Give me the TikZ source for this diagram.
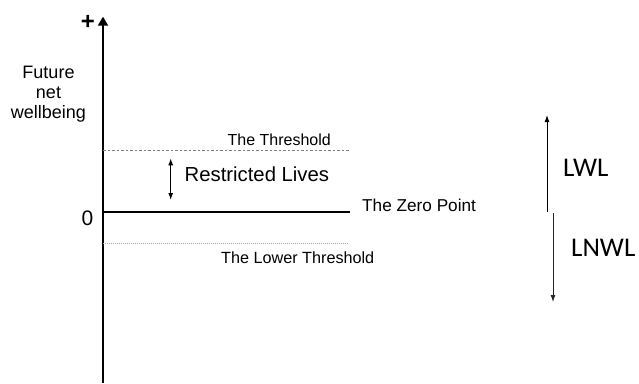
\documentclass[tikz,border=0pt]{standalone}
\usepackage{fontspec}
\setmainfont{Liberation Sans}
\newfontfamily\calfont{Carlito}
\usetikzlibrary{arrows.meta}
\begin{document}
\begin{tikzpicture}[x=1pt,y=-1pt,
  lbl/.style={inner sep=0pt,anchor=base west},
  thinarrow/.style={line width=0.9pt,-{Latex[length=7pt,width=5pt]}},
  dblarrow/.style={line width=1.1pt,{Latex[length=7pt,width=5pt]}-{Latex[length=7pt,width=5pt]}}]
\useasboundingbox (0,0) rectangle (639,383);
% axis
\coordinate (axbot) at (103,383);
\coordinate (axtop) at (103,16.7);
\draw[line width=2pt,-{Triangle[length=9pt,width=10pt]}] (axbot) -- (axtop);
\node[inner sep=0pt,font=\fontsize{24}{24}\selectfont\bfseries] (plus) at (88,22) {+};
\node[inner sep=0pt,anchor=north,align=center,font=\fontsize{18}{20}\selectfont] (ylab) at (48.5,65.7) {Future\\net\\wellbeing};
\node[inner sep=0pt,anchor=base,font=\fontsize{21}{21}\selectfont] (zero) at (87.5,225) {0};
% zero line
\coordinate (z1) at (103,211.5);
\coordinate (z2) at (350,211.5);
\draw[line width=2pt] (z1) -- (z2);
\node[lbl,font=\fontsize{17.2}{17.2}\selectfont] (zp) at (362,211.7) {The Zero Point};
% threshold
\coordinate (t1) at (103,150.7);
\coordinate (t2) at (349,150.7);
\draw[line width=1pt,gray,dash pattern=on 2.5pt off 2pt] (t1) -- (t2);
\node[lbl,font=\fontsize{16}{16}\selectfont] (th) at (227.5,145) {The Threshold};
% lower threshold
\coordinate (l1) at (103,243.3);
\coordinate (l2) at (349,243.3);
\draw[line width=0.7pt,gray!70,dash pattern=on 1pt off 1pt] (l1) -- (l2);
\node[lbl,font=\fontsize{16.2}{16.2}\selectfont] (lt) at (221,263.3) {The Lower Threshold};
% restricted lives
\coordinate (r1) at (170.7,158.3);
\coordinate (r2) at (170.7,200);
\draw[dblarrow] (r2) -- (r1);
\node[lbl,font=\fontsize{20.3}{20.3}\selectfont] (rl) at (184.5,181.7) {Restricted Lives};
% LWL / LNWL
\coordinate (u1) at (547,212);
\coordinate (u2) at (547,115);
\draw[thinarrow] (u1) -- (u2);
\coordinate (d1) at (553,213);
\coordinate (d2) at (553,302);
\draw[thinarrow,black!85] (d1) -- (d2);
\node[lbl,font=\calfont\fontsize{27}{27}\selectfont] (lwl) at (563,176.7) {LWL};
\node[lbl,font=\calfont\fontsize{27}{27}\selectfont] (lnwl) at (571,256.7) {LNWL};
\end{tikzpicture}
\end{document}
